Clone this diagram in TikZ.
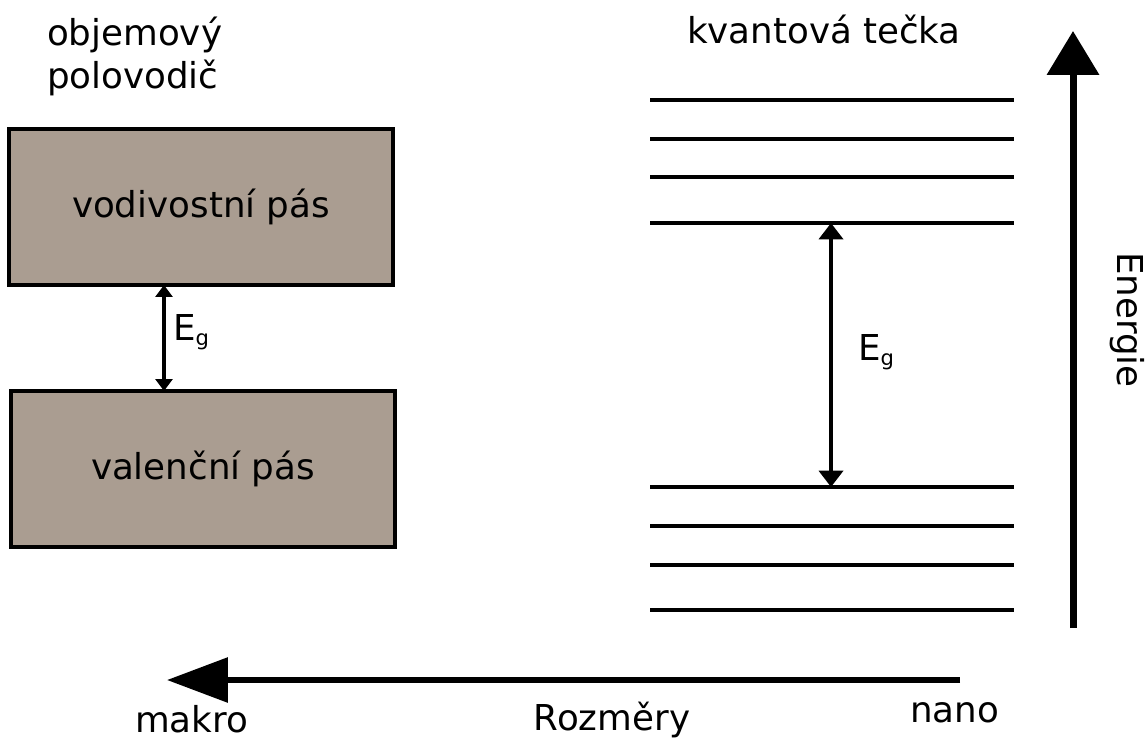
\documentclass[tikz,border=0pt]{standalone}
\usepackage{fontspec}
\setmainfont{DejaVu Sans}
\usetikzlibrary{arrows.meta}
\definecolor{band}{RGB}{170,157,145}
\newcommand\Egap{E\raisebox{-3.4pt}{\fontsize{12}{12}\selectfont g}}
\tikzset{
  lbl/.style={inner sep=0pt,outer sep=0pt,font=\fontsize{20.3}{24}\selectfont},
  bandbox/.style={lbl,draw=black,line width=1.8pt,fill=band,minimum width=7.68cm,minimum height=3.12cm},
  level/.style={line width=2.3pt},
  gapsmall/.style={line width=2.1pt,{Triangle[length=6.8pt,width=9.6pt]}-{Triangle[length=6.8pt,width=9.6pt]}},
  gapbig/.style={line width=2.3pt,{Triangle[length=9.3pt,width=13.6pt]}-{Triangle[length=9.3pt,width=13.6pt]}},
  axisv/.style={line width=4pt,-{Triangle[length=25pt,width=29pt]}},
  axish/.style={line width=3.4pt,-{Triangle[length=34.6pt,width=25pt]}},
}
\begin{document}
\begin{tikzpicture}[x=0.02cm,y=-0.02cm]
\useasboundingbox (0,0) rectangle (1145,738);
% left: bulk semiconductor
\node[lbl,anchor=base west] (t1) at (47,45) {objemový};
\node[lbl,anchor=base west] (t2) at (47,88) {polovodič};
\node[bandbox] (cb) at (201,207) {vodivostní pás};
\node[bandbox] (vb) at (203,469) {valenční pás};
\coordinate (ga) at (164,285);
\coordinate (gb) at (164,391);
\draw[gapsmall] (ga) -- (gb);
\node[lbl,anchor=base west] (eg1) at (173,340) {\Egap};
% right: quantum dot
\node[lbl,anchor=base west] (t3) at (687,43) {kvantová tečka};
\foreach \y [count=\i] in {100,139,177,223,487,526,565,610}{
  \coordinate (l\i a) at (650,\y);
  \coordinate (l\i b) at (1014,\y);
  \draw[level] (l\i a) -- (l\i b);
}
\coordinate (qa) at (831,223);
\coordinate (qb) at (831,487);
\draw[gapbig] (qa) -- (qb);
\node[lbl,anchor=base west] (eg2) at (858,360) {\Egap};
% energy axis
\coordinate (ea) at (1073,628);
\coordinate (eb) at (1073,31);
\draw[axisv] (ea) -- (eb);
\node[lbl,rotate=-90] (en) at (1127,320) {Energie};
% size axis
\coordinate (sa) at (960,680);
\coordinate (sb) at (167,680);
\draw[axish] (sa) -- (sb);
\node[lbl,anchor=base west] (mk) at (135,732) {makro};
\node[lbl,anchor=base] (rz) at (612,730) {Rozměry};
\node[lbl,anchor=base west] (nn) at (910,722) {nano};
\end{tikzpicture}
\end{document}
